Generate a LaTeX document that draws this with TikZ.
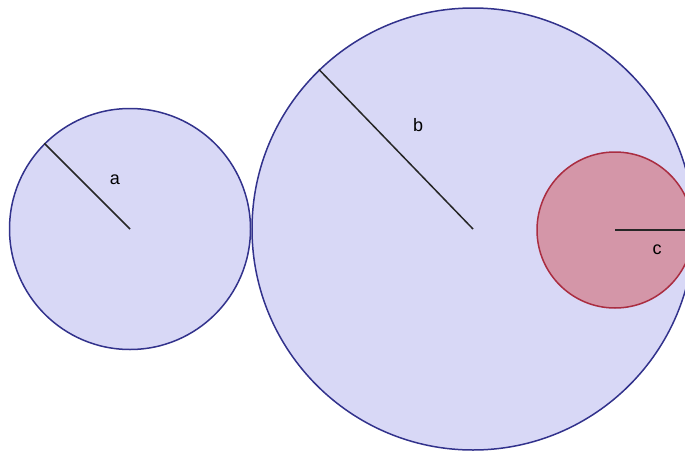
\documentclass[tikz,border=0pt]{standalone}
\usepackage{fontspec}
\setmainfont{Liberation Sans}
\usepackage{tikz}
\usetikzlibrary{positioning,calc}
\definecolor{discfill}{RGB}{216,216,246}
\definecolor{discline}{RGB}{50,50,140}
\definecolor{redfill}{RGB}{212,150,168}
\definecolor{redline}{RGB}{170,45,65}

\begin{document}
\begin{tikzpicture}[x=1pt,y=-1pt,thick]
        \tikzstyle{disc} = [circle, draw=discline, fill=discfill, inner sep=0pt, line width=1.5pt]
        \tikzstyle{radius} = [draw=black!85, line width=1.5pt]
        \tikzstyle{lbl} = [font=\fontsize{18}{20}\selectfont, inner sep=0pt]

        \useasboundingbox (0,0) rectangle (685,450);
        \clip (0,0) rectangle (685,450);

        % Nodes
        \node[disc, minimum size=241pt] (A) at (130,229) {};
        \node[disc, minimum size=442pt] (B) at (473,229) {};
        \node[disc, minimum size=156pt, draw=redline, fill=redfill] (C) at (615,230) {};
        \node[lbl] (la) at (115,180) {a};
        \node[lbl] (lb) at (418,125) {b};
        \node[lbl] (lc) at (657,250) {c};

        % Edges
        \path[radius] (A.center) -- (A.135);
        \path[radius] (B.center) -- (B.134);
        \path[radius] (C.center) -- (C.east);
    \end{tikzpicture}
\end{document}
